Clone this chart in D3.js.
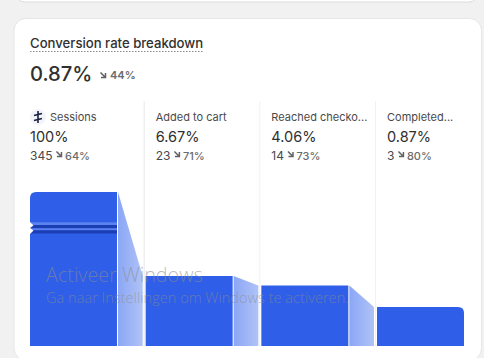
<!DOCTYPE html>
<html>
<head>
<meta charset="utf-8">
<script src="https://cdn.jsdelivr.net/npm/d3@7"></script>
<style>
  html, body { margin: 0; padding: 0; background: #f1f1f1; overflow: hidden; }
  svg { display: block; }
  text { font-family: Inter, "Noto Sans", sans-serif; }
</style>
</head>
<body>
<div id="chart"></div>
<script>
const stages = ["Sessions", "Added to cart", "Reached checko...", "Completed..."];
const rates = ["100%", "6.67%", "4.06%", "0.87%"];
const counts = [345, 23, 14, 3];
const dropoffs = ["64%", "71%", "73%", "80%"];
const totalRate = "0.87%";
const totalChange = "44%";

const width = 484;
const height = 358;
const baseline = 346;

const svg = d3.select("#chart").append("svg")
    .attr("width", width)
    .attr("height", height)
    .attr("viewBox", [0, 0, width, height]);

const defs = svg.append("defs");
const grad = defs.append("linearGradient").attr("id", "connector");
grad.append("stop").attr("offset", "0%").attr("stop-color", "#8ba6f5");
grad.append("stop").attr("offset", "100%").attr("stop-color", "#b0c3f6");

const x = d3.scaleBand()
    .domain(stages)
    .range([30, 464])
    .paddingInner(0.248);

// the shop chart squeezes the tall first bar, so the height scale is not straight
const y = d3.scaleLinear()
    .domain([3, 14, 23, 345])
    .range([307, 285.5, 276, 192]);

// cards
svg.append("rect")
    .attr("x", 15).attr("y", -20)
    .attr("width", 464).attr("height", 22)
    .attr("rx", 10)
    .attr("fill", "#fff")
    .attr("stroke", "#dcdcdc");
svg.append("rect")
    .attr("x", 14).attr("y", 18.5)
    .attr("width", 467.5).attr("height", 342)
    .attr("rx", 12)
    .attr("fill", "#fff")
    .attr("stroke", "#e6e6e6");

// header
svg.append("text")
    .attr("x", 30).attr("y", 48)
    .attr("font-size", 13.15)
    .attr("font-weight", 500)
    .attr("fill", "#303030")
    .text("Conversion rate breakdown");
svg.append("line")
    .attr("x1", 30).attr("x2", 203)
    .attr("y1", 51.5).attr("y2", 51.5)
    .attr("stroke", "#8a8a8a")
    .attr("stroke-dasharray", "1.5,1.5");
svg.append("text")
    .attr("x", 30).attr("y", 81)
    .attr("font-size", 20.2)
    .attr("font-weight", 500)
    .attr("fill", "#303030")
    .text(totalRate);

function downArrow(g, ax, ay) {
    g.append("path")
        .attr("d", `M${ax},${ay} L${ax + 5},${ay + 5} M${ax + 5},${ay + 0.5} V${ay + 5} H${ax + 0.5}`)
        .attr("fill", "none")
        .attr("stroke", "#616161")
        .attr("stroke-width", 1.5);
}

downArrow(svg, 100.5, 72.5);
svg.append("text")
    .attr("x", 110).attr("y", 79)
    .attr("font-size", 11)
    .attr("font-weight", 600)
    .attr("fill", "#6b6b6b")
    .text(totalChange);

// column dividers
svg.append("g")
    .selectAll("line")
    .data(stages.slice(1))
    .join("line")
    .attr("x1", d => x(d) - 1.5)
    .attr("x2", d => x(d) - 1.5)
    .attr("y1", 101)
    .attr("y2", baseline)
    .attr("stroke", (d, i) => i == 0 ? "#e8e8e8" : "#f1f1f1");

// connectors
svg.append("g")
    .selectAll("path")
    .data(d3.pairs(stages.map((s, i) => ({ stage: s, count: counts[i] }))))
    .join("path")
    .attr("fill", "url(#connector)")
    .attr("d", ([a, b]) => {
        const x0 = x(a.stage) + x.bandwidth() + 1;
        const x1 = x(b.stage) - 3;
        return `M${x0},${y(a.count)} L${x1},${y(b.count)} V${baseline} H${x0} Z`;
    });

// bars
const r = 6;
svg.append("g")
    .selectAll("path")
    .data(stages)
    .join("path")
    .attr("fill", "#2f5fe8")
    .attr("d", (d, i) => {
        const x0 = x(d);
        const x1 = x0 + x.bandwidth();
        const top = y(counts[i]);
        const rl = i == 0 ? r : 0;
        const rr = i == stages.length - 1 ? r : 0;
        return `M${x0},${baseline} V${top + rl} Q${x0},${top} ${x0 + rl},${top} H${x1 - rr} Q${x1},${top} ${x1},${top + rr} V${baseline} Z`;
    });

// axis break on the first bar
const barLeft = x(stages[0]);
const breakBands = [
    { y: 222.3, h: 2.7, fill: "#5b82f0" },
    { y: 225, h: 3.3, fill: "#1c3eb5" },
    { y: 228.3, h: 2, fill: "#5b82f0" },
    { y: 230.3, h: 3.2, fill: "#1c3eb5" }
];
svg.append("g")
    .selectAll("rect")
    .data(breakBands)
    .join("rect")
    .attr("x", barLeft)
    .attr("y", d => d.y)
    .attr("width", x.bandwidth())
    .attr("height", d => d.h)
    .attr("fill", d => d.fill);
svg.append("path")
    .attr("fill", "#fff")
    .attr("d", `M${barLeft},222 L${barLeft + 3.5},225.5 L${barLeft},228 L${barLeft + 3.5},230.5 L${barLeft},234 Z`);

// sessions icon
svg.append("circle")
    .attr("cx", 38).attr("cy", 117)
    .attr("r", 8)
    .attr("fill", "#f3f4f9");
svg.append("path")
    .attr("d", "M38,111 V123 M34,115.5 L42,113.5 M34,120.5 L42,118.5")
    .attr("fill", "none")
    .attr("stroke", "#1a2340")
    .attr("stroke-width", 1.6);

// column labels, first column starts flush with its bar
const labels = svg.append("g")
    .selectAll("g")
    .data(stages)
    .join("g")
    .attr("transform", (d, i) => `translate(${i == 0 ? x(d) : x(d) + 10},0)`);

labels.append("text")
    .attr("x", (d, i) => i == 0 ? 20 : 0)
    .attr("y", 121)
    .attr("font-size", 11)
    .attr("fill", "#4a4a4a")
    .text(d => d);
labels.append("text")
    .attr("x", 0)
    .attr("y", 142)
    .attr("font-size", 14.5)
    .attr("fill", "#303030")
    .text((d, i) => rates[i]);
labels.append("text")
    .attr("class", "count")
    .attr("x", 0)
    .attr("y", 160)
    .attr("font-size", 12)
    .attr("fill", "#4a4a4a")
    .text((d, i) => counts[i]);
labels.each(function(d, i) {
    const g = d3.select(this);
    const w = g.select(".count").node().getComputedTextLength();
    downArrow(g, w + 4, 151.5);
    g.append("text")
        .attr("x", w + 12.5)
        .attr("y", 160)
        .attr("font-size", 11)
        .attr("font-weight", 500)
        .attr("fill", "#6b6b6b")
        .text(dropoffs[i]);
});

// windows watermark sits over everything in the screenshot
svg.append("text")
    .attr("x", 46).attr("y", 282)
    .attr("font-weight", 300)
    .attr("font-size", 19.8)
    .attr("fill", "#8c8c8c")
    .attr("fill-opacity", 0.6)
    .style("font-family", "'Open Sans'")
    .text("Activeer Windows");
svg.append("text")
    .attr("x", 46).attr("y", 303)
    .attr("font-weight", 300)
    .attr("font-size", 14.6)
    .attr("fill", "#8c8c8c")
    .attr("fill-opacity", 0.6)
    .style("font-family", "'Open Sans'")
    .text("Ga naar Instellingen om Windows te activeren.");
</script>
</body>
</html>
